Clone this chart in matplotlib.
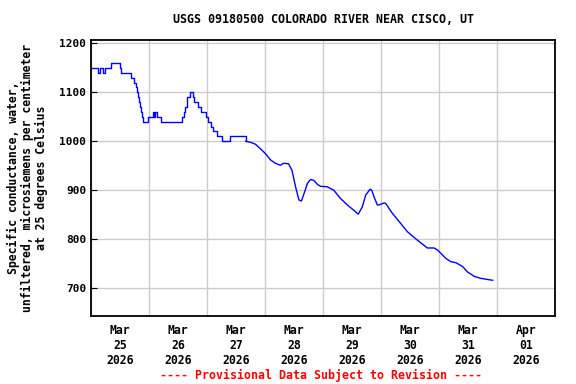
import matplotlib
matplotlib.use("Agg")
import matplotlib.pyplot as plt
import matplotlib.dates as mdates
import pandas as pd

# hours since 2026-03-25 00:00 and specific conductance (uS/cm)
# first part is reported in steps of 10
step_hours = [0, 2.9, 3.7, 5.0, 5.8, 8.2, 12.0, 12.4, 16.7, 17.8, 18.5, 19.2, 19.5,
              19.9, 20.2, 20.6, 21.0, 21.3, 23.6, 25.7, 26.0, 26.6, 27.1, 29.1,
              37.8, 38.4, 39.0, 39.5, 39.9, 40.9, 42.0, 42.7, 44.1, 45.5, 47.4,
              48.5, 49.6, 50.6, 52.1, 54.0, 57.5, 64.0]
step_vals = [1150, 1140, 1150, 1140, 1150, 1160, 1150, 1140, 1130, 1120, 1110, 1100, 1090,
             1080, 1070, 1060, 1050, 1040, 1050, 1060, 1050, 1060, 1050, 1040,
             1050, 1060, 1070, 1080, 1090, 1100, 1090, 1080, 1070, 1060, 1050,
             1040, 1030, 1020, 1010, 1000, 1010, 1000]

hours = [64.0, 65.9, 68.0, 70.0, 72.1, 74.2, 76.3, 78.3, 79.6, 81.7, 83.1, 84.6, 86.0,
         87.0, 88.1, 89.5, 90.8, 92.2, 93.6, 94.9, 97.7, 100.4, 103.2, 106.0, 108.7,
         110.5, 112.2, 113.6, 115.4, 116.1, 117.0, 118.4, 119.1, 121.2, 121.9, 124.6,
         128.1, 130.9, 135.0, 139.1, 141.9, 143.3, 146.7, 148.8, 150.9, 153.7, 155.7,
         158.5, 161.2, 166.1]
vals = [1000, 998, 994, 985, 975, 962, 955, 951, 955, 954, 941, 907, 880,
        878, 893, 914, 922, 920, 912, 908, 907, 900, 883, 870, 859,
        851, 866, 890, 902, 900, 887, 870, 870, 874, 873, 853,
        832, 815, 798, 782, 782, 778, 761, 754, 752, 744, 733,
        724, 720, 716]

day_labels = ["Mar\n25\n2026", "Mar\n26\n2026", "Mar\n27\n2026", "Mar\n28\n2026",
              "Mar\n29\n2026", "Mar\n30\n2026", "Mar\n31\n2026", "Apr\n01\n2026"]
yticks = [700, 800, 900, 1000, 1100, 1200]

base = pd.Timestamp("2026-03-25")
t_step = base + pd.to_timedelta(step_hours, unit="h")
t_line = base + pd.to_timedelta(hours, unit="h")

mono = "DejaVu Sans Mono"
fig = plt.figure(figsize=(5.76, 3.84), dpi=100)
ax = fig.add_axes([0.158, 0.177, 0.806, 0.719])

ax.plot(t_step, step_vals, color="#0000ff", lw=1, drawstyle="steps-post")
ax.plot(t_line, vals, color="#0000ff", lw=1)

ax.set_xlim(base, base + pd.Timedelta(days=8))
ax.set_ylim(643, 1207)
ax.set_yticks(yticks)

days = [base + pd.Timedelta(days=i) for i in range(9)]
noons = [base + pd.Timedelta(days=i, hours=12) for i in range(8)]
ax.set_xticks(days)
ax.set_xticklabels([])
ax.set_xticks(noons, minor=True)
ax.set_xticklabels(day_labels, minor=True, fontfamily=mono, fontweight="bold", fontsize=8.3)
for lab in ax.get_xticklabels(minor=True):
    lab.set_linespacing(1.2)
ax.tick_params(axis="x", which="both", length=0, pad=6)
ax.tick_params(axis="y", length=4, direction="in", labelsize=8)
for lab in ax.get_yticklabels():
    lab.set_fontfamily(mono)
    lab.set_fontweight("bold")

ax.grid(True, which="major", color="#cccccc", lw=1)
ax.set_axisbelow(True)
for s in ax.spines.values():
    s.set_linewidth(1.3)

ax.set_title("USGS 09180500 COLORADO RIVER NEAR CISCO, UT", fontfamily=mono,
             fontweight="bold", fontsize=8.4, pad=12)
ax.set_ylabel("Specific conductance, water,\nunfiltered, microsiemens per centimeter\nat 25 degrees Celsius",
              fontfamily=mono, fontweight="bold", fontsize=8.3, linespacing=1.1, labelpad=8)
fig.text(0.557, 0.012, "---- Provisional Data Subject to Revision ----", color="red",
         fontfamily=mono, fontweight="bold", fontsize=8.4, ha="center")

fig.savefig("out.png", dpi=100)
